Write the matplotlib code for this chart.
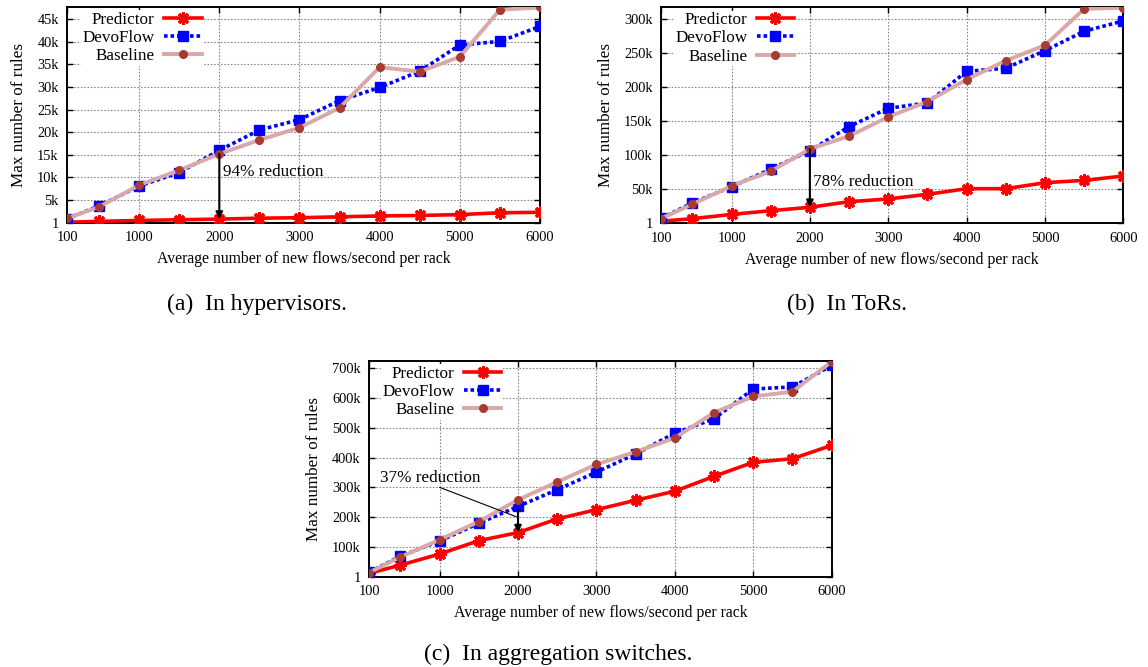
import numpy as np
import matplotlib
matplotlib.use("Agg")
import matplotlib.pyplot as plt

plt.rcParams['font.family'] = ['Liberation Serif', 'DejaVu Serif']

flows = [100, 500, 1000, 1500, 2000, 2500, 3000, 3500, 4000, 4500, 5000, 5500, 6000]
x_ticks = [100, 1000, 2000, 3000, 4000, 5000, 6000]

# (a) hypervisors
hyp_predictor = [100, 300, 500, 650, 800, 1000, 1100, 1300, 1500, 1600, 1800, 2200, 2300]
hyp_devoflow = [900, 3700, 8100, 11100, 16000, 20500, 22800, 27000, 29900, 33500, 39300, 40100, 43400]
hyp_baseline = [1000, 3500, 8300, 11600, 15200, 18300, 21000, 25400, 34400, 33400, 36700, 47100, 47600]
hyp_yticks = [1, 5000, 10000, 15000, 20000, 25000, 30000, 35000, 40000, 45000]
hyp_ylabels = ['1', '5k', '10k', '15k', '20k', '25k', '30k', '35k', '40k', '45k']

# (b) ToRs
tor_predictor = [3000, 6800, 13000, 18500, 23500, 31700, 35700, 42500, 50800, 50800, 59600, 63000, 69400]
tor_devoflow = [7300, 29800, 53800, 79300, 106600, 141900, 168800, 176600, 223000, 227500, 253400, 281800, 297000]
tor_baseline = [7000, 27900, 54800, 76300, 109000, 128000, 156000, 178600, 211000, 238700, 261300, 314600, 316500]
tor_yticks = [1, 50000, 100000, 150000, 200000, 250000, 300000]
tor_ylabels = ['1', '50k', '100k', '150k', '200k', '250k', '300k']

# (c) aggregation switches
agg_predictor = [11000, 39000, 76000, 121000, 148000, 194000, 225000, 256600, 287000, 337000, 384000, 396000, 441000]
agg_devoflow = [15000, 68500, 120000, 179000, 236000, 292000, 351000, 412000, 482000, 530000, 630000, 637000, 709000]
agg_baseline = [14000, 66000, 124000, 185000, 258000, 318000, 377000, 419000, 466000, 551000, 605000, 621000, 722000]
agg_yticks = [1, 100000, 200000, 300000, 400000, 500000, 600000, 700000]
agg_ylabels = ['1', '100k', '200k', '300k', '400k', '500k', '600k', '700k']

W, H = 1148, 667
fig = plt.figure(figsize=(W / 100, H / 100), dpi=100)


def px_axes(left, top, right, bottom):
    return fig.add_axes([left / W, 1 - bottom / H, (right - left) / W, (bottom - top) / H])


def draw(ax, pred, devo, base, yticks, ylabels, ytop, legend_x):
    ax.plot(flows, pred, color='red', lw=2.6, marker=(8, 2, 0), ms=9, mew=2.2,
            label='Predictor', zorder=3)
    ax.plot(flows, devo, color='blue', lw=2.6, ls=(0, (1, 0.8)), marker='s', ms=6.5,
            label='DevoFlow', zorder=4)
    ax.plot(flows, base, color='#d9a8a8', lw=2.8, marker='o', ms=5.5,
            mfc='#a83a32', mec='#a83a32', label='Baseline', zorder=5)
    ax.set_xlim(100, 6000)
    ax.set_ylim(1, ytop)
    ax.set_xticks(x_ticks)
    ax.set_yticks(yticks)
    ax.set_yticklabels(ylabels)
    ax.tick_params(direction='in', top=True, right=True, labelsize=10.4, length=4,
                   width=1, pad=6)
    ax.grid(True, ls=(0, (1.5, 1.5)), color='#888888', lw=0.8)
    ax.set_axisbelow(True)
    for s in ax.spines.values():
        s.set_linewidth(1.4)
    ax.set_xlabel('Average number of new flows/second per rack', fontsize=11.3, labelpad=5)
    ax.set_ylabel('Max number of rules', fontsize=12.3, labelpad=7)
    leg = ax.legend(loc='upper right', bbox_to_anchor=(legend_x, 0.985),
                    markerfirst=False, fontsize=12.3, handlelength=2.2,
                    handletextpad=0.55, labelspacing=0.13, borderpad=0.1,
                    borderaxespad=0, fancybox=False, framealpha=1)
    leg.get_frame().set_edgecolor('none')
    leg.set_zorder(6)


# (a)
ax1 = px_axes(67, 7, 540, 222.7)
draw(ax1, hyp_predictor, hyp_devoflow, hyp_baseline, hyp_yticks, hyp_ylabels, 47700, 0.288)
ax1.annotate('', xy=(2000, hyp_predictor[4]), xytext=(2000, hyp_baseline[4]),
             arrowprops=dict(arrowstyle='-|>', color='k', lw=1.5, shrinkA=0, shrinkB=0,
                             mutation_scale=10), zorder=7)
ax1.text(2050, 11200, '94% reduction', fontsize=12.3, va='center', ha='left')
fig.text(257 / W, 1 - 304 / H, '(a)  In hypervisors.', fontsize=17, ha='center', va='center')

# (b)
ax2 = px_axes(661, 7.3, 1123.3, 223.3)
draw(ax2, tor_predictor, tor_devoflow, tor_baseline, tor_yticks, tor_ylabels, 317000, 0.292)
ax2.annotate('', xy=(2000, tor_predictor[4]), xytext=(2000, tor_baseline[4]),
             arrowprops=dict(arrowstyle='-|>', color='k', lw=1.5, shrinkA=0, shrinkB=0,
                             mutation_scale=10), zorder=7)
ax2.text(2040, 60000, '78% reduction', fontsize=12.3, va='center', ha='left')
fig.text(847 / W, 1 - 304 / H, '(b)  In ToRs.', fontsize=17, ha='center', va='center')

# (c)
ax3 = px_axes(369, 361, 831.7, 576.7)
draw(ax3, agg_predictor, agg_devoflow, agg_baseline, agg_yticks, agg_ylabels, 724000, 0.29)
ax3.annotate('', xy=(2000, agg_predictor[4]), xytext=(2000, agg_devoflow[4] - 12000),
             arrowprops=dict(arrowstyle='-|>', color='k', lw=1.5, shrinkA=0, shrinkB=0,
                             mutation_scale=10), zorder=7)
ax3.annotate('', xy=(1980, 201000), xytext=(1000, 300000),
             arrowprops=dict(arrowstyle='-', color='k', lw=0.8, shrinkA=0, shrinkB=0), zorder=7)
ax3.text(245, 331000, '37% reduction', fontsize=12.3, va='center', ha='left')
fig.text(558 / W, 1 - 654 / H, '(c)  In aggregation switches.', fontsize=17,
         ha='center', va='center')

fig.savefig('out.png', dpi=100)
